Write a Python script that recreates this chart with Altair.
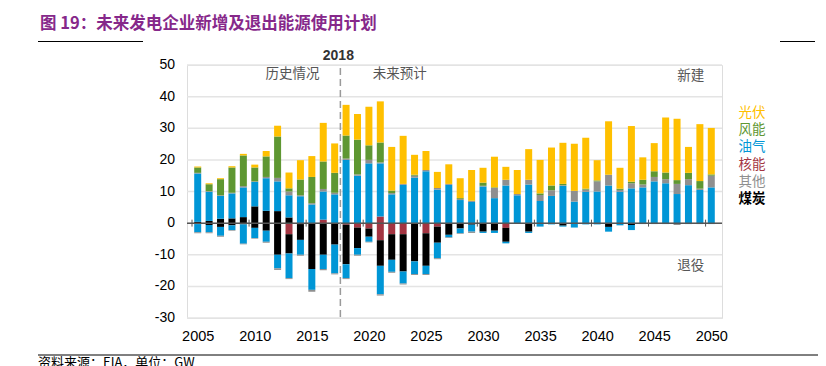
import altair as alt
import pandas as pd

years = list(range(2005, 2051))
categories = ["光伏", "风能", "油气", "核能", "其他", "煤炭"]
palette = ["#FFC000", "#5E9732", "#0096D6", "#A33542", "#8F8F8F", "#000000"]

# additions (GW)
coal_add = [0.4, 0.7, 1.4, 1.5, 1.9, 5.3, 3.9, 3.8, 1.8, 0,
            0, 0, 0, 0, 0, 0, 0, 0, 0, 0,
            0, 0, 0, 0, 0, 0, 0, 0, 0, 0,
            0, 0, 0, 0, 0, 0, 0, 0, 0, 0,
            0, 0, 0, 0, 0, 0]
nuc_add = [0, 0, 0, 0, 0, 0, 0, 0, 0, 0,
           0, 1.1, 0, 0, 0, 0, 2.1, 0, 0, 0,
           0, 0, 0, 0, 0, 0, 0, 0, 0, 0,
           0, 0, 0, 0, 0, 0, 0, 0, 0, 0,
           0, 0, 0, 0, 0, 0]
gas_add = [15.3, 9.2, 7.2, 7.9, 9.4, 7.7, 10.3, 9.4, 7.0, 8.5,
           5.9, 8.9, 9.1, 20.0, 15.0, 18.9, 16.8, 9.1, 12.1, 14.4,
           16.4, 10.6, 12.1, 7.3, 6.7, 11.6, 7.9, 11.9, 8.8, 12.2,
           7.0, 8.6, 11.8, 6.8, 9.9, 10.0, 11.9, 9.9, 11.0, 11.3,
           13.2, 12.6, 9.2, 12.0, 10.5, 11.3]
other_add = [0.2, 0.2, 0.2, 0.2, 0.4, 0.2, 0.4, 1.1, 1.2, 0.3,
             0.4, 0.8, 0.5, 0.4, 0.4, 1.1, 0.3, 0.4, 0.3, 0.6,
             0.4, 0.5, 0.3, 0.3, 0.3, 0.2, 3.2, 1.8, 0.4, 1.5,
             1.9, 1.8, 0.2, 3.4, 0.7, 3.2, 3.4, 0.6, 1.6, 0.9,
             1.4, 1.3, 3.2, 1.9, 0.4, 3.7]
wind_add = [1.7, 2.2, 5.1, 8.0, 9.7, 4.4, 6.5, 13.1, 1.0, 5.0,
            8.3, 8.7, 6.3, 7.3, 11.0, 4.6, 6.3, 0.8, 0, 0.3,
            0, 0, 0, 0.3, 0.1, 1.0, 0.2, 0, 0, 0,
            0.5, 1.5, 0.4, 0, 0.3, 0.3, 0, 0.4, 0.5, 1.5,
            1.8, 2.1, 1.2, 2.0, 2.4, 0.4]
solar_add = [0.3, 0.3, 0.3, 0.4, 0.5, 0.9, 1.7, 3.4, 5.0, 6.1,
             6.6, 12.2, 9.3, 9.7, 8.1, 12.2, 13.0, 13.8, 15.2, 6.3,
             6.0, 5.1, 6.2, 6.3, 9.7, 4.7, 9.7, 4.1, 7.6, 9.7,
             10.6, 12.0, 13.0, 14.9, 16.1, 6.4, 16.9, 6.6, 17.6, 7.1,
             8.9, 17.4, 19.4, 8.2, 18.0, 14.7]

# retirements (GW, drawn below zero)
nuc_ret = [0, 0, 0, 0, 0, 0, 0, 0, 3.5, 0.3,
           0, 0, 0, 0.5, 1.4, 1.7, 5.4, 3.5, 3.5, 0,
           3.2, 1.1, 0, 0, 0, 0, 0, 1.5, 0, 0,
           0, 0, 0, 0, 0, 0, 0, 0, 0, 0,
           0, 0, 0, 0, 0, 0]
coal_ret = [0.3, 0.6, 1.2, 0.7, 0.4, 1.5, 2.4, 10.0, 6.1, 5.0,
            14.5, 10.0, 6.8, 12.5, 6.5, 2.6, 8.1, 8.1, 11.8, 12.1,
            10.3, 5.1, 3.7, 1.7, 0.5, 2.7, 2.4, 4.4, 0, 2.7,
            0, 0, 0.8, 0, 0, 0, 1.2, 0, 0.6, 0,
            0, 0, 0, 0, 0, 0]
gas_ret = [2.6, 2.3, 2.8, 1.5, 6.1, 3.2, 3.5, 4.3, 7.8, 4.7,
           6.6, 4.5, 9.1, 4.4, 2.1, 1.6, 9.0, 3.8, 3.8, 4.0,
           2.6, 4.9, 0.8, 1.5, 2.2, 0.4, 0.7, 0.5, 0.2, 0.4,
           1.1, 0.4, 0.3, 1.4, 0.4, 0.4, 1.5, 0.7, 1.6, 0.3,
           0.3, 0.3, 0.1, 0.3, 0.3, 0.3]
other_ret = [0.3, 0.3, 0.3, 0.2, 0.2, 0.2, 0.3, 0.5, 0.3, 0.3,
             0.6, 0.4, 0.3, 0.3, 0.3, 0.2, 0.4, 0.3, 0.3, 0.3,
             0.3, 0.3, 0.2, 0.2, 0.4, 0, 0, 0, 0, 0,
             0, 0, 0, 0, 0, 0, 0, 0, 0, 0,
             0, 0, 0.5, 0, 0, 0]

x_labels = [2005, 2010, 2015, 2020, 2025, 2030, 2035, 2040, 2045, 2050]
y_labels = [-30, -20, -10, 0, 10, 20, 30, 40, 50]
group_edges = [2004.5, 2009.5, 2014.5, 2019.5, 2024.5, 2029.5, 2034.5, 2039.5, 2044.5, 2049.5]

add_order = [("煤炭", coal_add), ("核能", nuc_add), ("油气", gas_add),
             ("其他", other_add), ("风能", wind_add), ("光伏", solar_add)]
ret_order = [("核能", nuc_ret), ("煤炭", coal_ret), ("油气", gas_ret), ("其他", other_ret)]

rows = []
for i, yr in enumerate(years):
    for k, (c, arr) in enumerate(add_order):
        if arr[i]:
            rows.append({"year": yr, "cat": c, "value": arr[i], "ord": k})
    for k, (c, arr) in enumerate(ret_order):
        if arr[i]:
            rows.append({"year": yr, "cat": c, "value": -arr[i], "ord": k})
df = pd.DataFrame(rows)
one = pd.DataFrame({"k": [0]})
ygrid_df = pd.DataFrame({"v": y_labels, "lab": [str(v) for v in y_labels]})

W, H = 535, 253
NUM_FONT = "Liberation Sans"
CJK = "Noto Sans CJK SC"

xscale = alt.Scale(domain=[2004.5, 2050.5], nice=False, zero=False)
yscale = alt.Scale(domain=[-30, 50], nice=False)

grid = alt.Chart(ygrid_df).mark_rule(color="#e4e4e4", strokeWidth=1.5).encode(
    y=alt.Y("v:Q", scale=yscale, axis=None)
)
ylab = alt.Chart(ygrid_df).mark_text(font=NUM_FONT, fontSize=14, color="#000000",
                                     align="right", baseline="middle").encode(
    y=alt.Y("v:Q", scale=yscale, axis=None), x=alt.value(-12), text="lab:N"
)

bars = alt.Chart(df).mark_bar(size=7).encode(
    x=alt.X("year:Q", scale=xscale,
            axis=alt.Axis(values=x_labels, format="d", grid=False, domain=False,
                          ticks=False, labelPadding=11, labelFontSize=14.5,
                          labelFont=NUM_FONT, labelColor="#000", title=None)),
    y=alt.Y("value:Q", stack="zero", scale=yscale, axis=None),
    color=alt.Color("cat:N", scale=alt.Scale(domain=categories, range=palette), legend=None),
    order=alt.Order("ord:Q", sort="ascending"),
)

zero_line = alt.Chart(one).mark_rule(color="#555555", strokeWidth=1.5).encode(
    y=alt.YDatum(0, axis=None)
)

edge_df = pd.DataFrame({"edge": group_edges})
edge_ticks = alt.Chart(edge_df).mark_rule(color="#555555", strokeWidth=1).encode(
    x=alt.X("edge:Q", scale=xscale),
    y=alt.YDatum(-1.1, axis=None),
    y2=alt.datum(1.1),
)

divider = alt.Chart(one).mark_rule(color="#9a9a9a", strokeWidth=1.5, strokeDash=[7, 4]).encode(
    x=alt.datum(2017.5), y=alt.value(3), y2=alt.value(H)
)

label2018 = alt.Chart(one).mark_text(font=NUM_FONT, fontSize=14, fontWeight="bold",
                                     color="#333333", baseline="middle", dx=-2).encode(
    x=alt.datum(2017.5), y=alt.value(-9), text=alt.value("2018")
)

def note(txt, xv, yv, color="#555555", size=13.5):
    return alt.Chart(one).mark_text(font=CJK, fontSize=size, color=color,
                                    baseline="middle", align="center").encode(
        x=alt.datum(xv), y=alt.YDatum(yv, axis=None), text=alt.value(txt)
    )

notes = [
    note("历史情况", 2013.3, 47.2),
    note("未来预计", 2022.7, 47.2),
    note("新建", 2048.2, 46.4),
    note("退役", 2048.2, -13.6),
]

legend_layers = []
for i, (c, col) in enumerate(zip(categories, palette)):
    legend_layers.append(
        alt.Chart(one).mark_text(font=CJK, fontSize=13.5, color=col, align="center",
                                 baseline="middle",
                                 fontWeight="bold" if c == "煤炭" else "normal").encode(
            x=alt.value(565), y=alt.value(47.7 + i * 17.3), text=alt.value(c)
        )
    )

title = alt.Chart(one).mark_text(font=CJK, fontSize=16.5, fontWeight="bold", color="#86288A",
                                 align="left", baseline="middle").encode(
    x=alt.value(-147), y=alt.value(-41), text=alt.value("图 19：未来发电企业新增及退出能源使用计划")
)
title_rule = alt.Chart(one).mark_rule(color="#000000", strokeWidth=1).encode(
    x=alt.value(-149), x2=alt.value(-44), y=alt.value(-23.5)
)
title_rule_r = alt.Chart(one).mark_rule(color="#000000", strokeWidth=1).encode(
    x=alt.value(593), x2=alt.value(628), y=alt.value(-23.5)
)
bottom_rule = alt.Chart(one).mark_rule(color="#000000", strokeWidth=1).encode(
    x=alt.value(-149), x2=alt.value(639), y=alt.value(290)
)
source = alt.Chart(one).mark_text(font=CJK, fontSize=13, color="#000000",
                                  align="left", baseline="top").encode(
    x=alt.value(-149), y=alt.value(292), text=alt.value("资料来源：EIA，单位：GW")
)

chart = alt.layer(
    grid, ylab, bars, zero_line, edge_ticks, divider, label2018, *notes, *legend_layers,
    title, title_rule, title_rule_r, bottom_rule, source
).properties(
    width=W, height=H,
    autosize=alt.AutoSizeParams(type="none"),
    padding={"left": 179, "top": 57, "right": 96, "bottom": 48},
).configure_view(stroke=None).configure(background="white")

chart.save("out.html", embed_options={"renderer": "svg", "actions": False})
